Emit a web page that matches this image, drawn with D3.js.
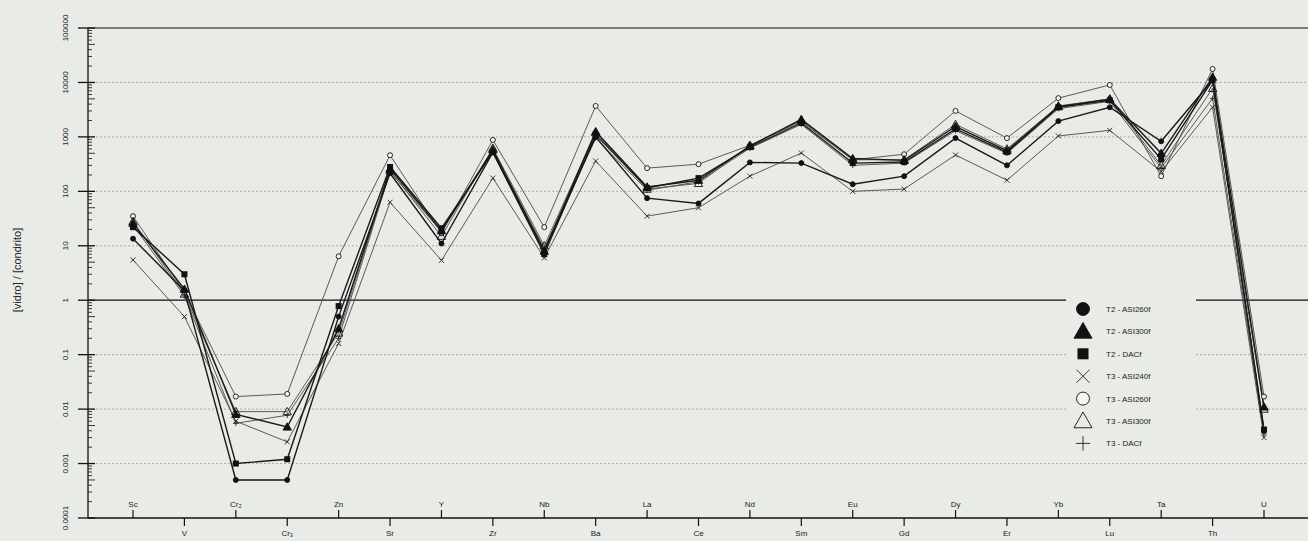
<!DOCTYPE html>
<html>
<head>
<meta charset="utf-8">
<script src="https://cdn.jsdelivr.net/npm/d3@7"></script>
<style>
html,body{margin:0;padding:0;background:#e8ebe6;}
svg{display:block;font-family:"Liberation Sans",Arial,sans-serif;}
</style>
</head>
<body>
<svg id="chart" width="1308" height="541"></svg>
<script>
const elements = ["Sc","V","Cr₂","Cr₃","Zn","Sr","Y","Zr","Nb","Ba","La","Ce","Nd","Sm","Eu","Gd","Dy","Er","Yb","Lu","Ta","Th","U"];

const t2_asi260f = [13.5,1.5,0.0005,0.0005,0.5,215,11,520,8,1000,75,60,340,330,135,190,950,300,1950,3500,830,11000,0.004];
const t2_asi300f = [26,1.6,0.008,0.0047,0.3,260,19,580,8,1250,120,160,680,2100,400,370,1550,560,3600,4900,500,12500,0.011];
const t2_dacf    = [22,3.0,0.001,0.0012,0.78,280,21,525,7,1100,115,175,650,1800,330,345,1400,525,3500,4700,390,11000,0.0042];
const t3_asi240f = [5.5,0.5,0.006,0.0025,0.16,63,5.4,175,6,360,35,50,190,505,100,110,465,160,1040,1320,230,3500,0.003];
const t3_asi260f = [35,1.4,0.017,0.019,6.4,460,17,880,22,3700,267,315,700,1900,380,480,3000,950,5150,9000,190,17700,0.017];
const t3_asi300f = [28,1.3,0.009,0.009,0.25,240,15,620,10,1200,110,140,700,2000,380,380,1700,600,3700,5000,300,7800,0.01];
const t3_dacf    = [24,1.2,0.0055,0.0077,0.2,230,18,560,9,950,105,150,620,1700,300,330,1300,500,3300,4500,270,5100,0.0035];

const seriesNames = ["T2 - ASI260f","T2 - ASI300f","T2 - DACf","T3 - ASI240f","T3 - ASI260f","T3 - ASI300f","T3 - DACf"];
const seriesValues = [t2_asi260f,t2_asi300f,t2_dacf,t3_asi240f,t3_asi260f,t3_asi300f,t3_dacf];
const seriesMarkers = ["circleF","triangleF","squareF","cross","circleO","triangleO","plus"];

const yTickValues = [1e-4,1e-3,1e-2,1e-1,1,10,100,1000,10000,100000];
const yTickLabels = ["0.0001","0.001","0.01","0.1","1","10","100","1000","10000","100000"];

const svg = d3.select("#chart");
const W = 1308, H = 541;
const axX = 88, plotTop = 28, plotBottom = 518;

const x = d3.scalePoint().domain(elements).range([133, 1264]);
const y = d3.scaleLog().domain([1e-4, 1e5]).range([plotBottom, plotTop]);

// gridlines
const g = svg.append("g");
yTickValues.forEach((v, i) => {
  if (v === 1e-4) return;
  const yy = y(v);
  if (v === 1 || v === 1e5) {
    g.append("line").attr("x1", axX).attr("x2", W).attr("y1", yy).attr("y2", yy)
      .attr("stroke", "#111").attr("stroke-width", 1.2);
  } else {
    g.append("line").attr("x1", axX).attr("x2", W).attr("y1", yy).attr("y2", yy)
      .attr("stroke", "#9a9c98").attr("stroke-width", 0.8).attr("stroke-dasharray", "2,2");
  }
});

// y axis
const yAxisG = svg.append("g").attr("transform", `translate(${axX},0)`);
yAxisG.append("line").attr("x1", 0).attr("x2", 0).attr("y1", plotTop).attr("y2", plotBottom)
  .attr("stroke", "#111").attr("stroke-width", 1.3);
const minor = [];
for (let e = -4; e < 5; e++) for (let m = 2; m <= 9; m++) minor.push({v: m * Math.pow(10, e), m: m});
yAxisG.selectAll(".minor").data(minor).enter().append("line")
  .attr("x1", 0).attr("x2", d => (d.m === 5 ? 7 : 4))
  .attr("y1", d => y(d.v)).attr("y2", d => y(d.v))
  .attr("stroke", "#222").attr("stroke-width", 0.9);
yAxisG.selectAll(".major").data(yTickValues).enter().append("line")
  .attr("x1", -10).attr("x2", 7)
  .attr("y1", d => y(d)).attr("y2", d => y(d))
  .attr("stroke", "#111").attr("stroke-width", 1.3);
yAxisG.selectAll(".ylab").data(yTickValues).enter().append("text")
  .attr("transform", d => `translate(-20,${y(d)}) rotate(-90)`)
  .attr("text-anchor", "middle")
  .attr("font-size", 8).attr("fill", "#222")
  .text((d, i) => yTickLabels[i]);

svg.append("text")
  .attr("transform", `translate(21,270) rotate(-90)`)
  .attr("text-anchor", "middle").attr("font-size", 11).attr("fill", "#222")
  .text("[vidro] / [condrito]");

// x axis
const xAxisG = svg.append("g");
xAxisG.append("line").attr("x1", axX).attr("x2", W).attr("y1", plotBottom).attr("y2", plotBottom)
  .attr("stroke", "#111").attr("stroke-width", 1.3);
elements.forEach((el, i) => {
  const xx = x(el);
  const up = i % 2 === 0;
  xAxisG.append("line").attr("x1", xx).attr("x2", xx)
    .attr("y1", plotBottom).attr("y2", up ? plotBottom - 8 : plotBottom + 8)
    .attr("stroke", "#111").attr("stroke-width", 1.2);
  xAxisG.append("text").attr("x", xx).attr("y", up ? plotBottom - 11 : plotBottom + 18)
    .attr("text-anchor", "middle").attr("font-size", 8).attr("fill", "#222")
    .text(el);
});

function drawMarker(sel, type, size) {
  const s = size;
  if (type === "circleF" || type === "circleO") {
    sel.append("circle").attr("r", s * 0.5)
      .attr("fill", type === "circleF" ? "#111" : "#f4f5f2")
      .attr("stroke", "#111").attr("stroke-width", 0.9);
  } else if (type === "squareF") {
    sel.append("rect").attr("x", -s * 0.5).attr("y", -s * 0.5).attr("width", s).attr("height", s)
      .attr("fill", "#111");
  } else if (type === "triangleF" || type === "triangleO") {
    const h = s;
    sel.append("path").attr("d", `M0,${-h * 0.6}L${s * 0.6},${h * 0.45}L${-s * 0.6},${h * 0.45}Z`)
      .attr("fill", type === "triangleF" ? "#111" : "none")
      .attr("stroke", "#111").attr("stroke-width", 0.9);
  } else if (type === "cross") {
    const r = s * 0.5;
    sel.append("path").attr("d", `M${-r},${-r}L${r},${r}M${-r},${r}L${r},${-r}`)
      .attr("stroke", "#222").attr("stroke-width", 0.9);
  } else if (type === "plus") {
    const r = s * 0.55;
    sel.append("path").attr("d", `M${-r},0L${r},0M0,${-r}L0,${r}`)
      .attr("stroke", "#222").attr("stroke-width", 0.9);
  }
}

const line = d3.line().x((d, i) => x(elements[i])).y(d => y(d));
const plotG = svg.append("g");
const order = [3, 4, 5, 6, 0, 1, 2];
order.forEach(si => {
  const isT2 = si < 3;
  plotG.append("path").datum(seriesValues[si]).attr("d", line)
    .attr("fill", "none")
    .attr("stroke", isT2 ? "#1a1a1a" : "#4a4a4a")
    .attr("stroke-width", isT2 ? 1.4 : 0.9);
});
order.forEach(si => {
  const mk = seriesMarkers[si];
  const sz = mk === "squareF" ? 6 : (mk.startsWith("triangle") ? 7 : 5);
  seriesValues[si].forEach((v, i) => {
    const m = plotG.append("g").attr("transform", `translate(${x(elements[i])},${y(v)})`);
    drawMarker(m, mk, sz);
  });
});

// legend
const lg = svg.append("g");
lg.append("rect").attr("x", 1066).attr("y", 292).attr("width", 130).attr("height", 166)
  .attr("fill", "#e8ebe6");
seriesNames.forEach((name, i) => {
  const yy = 309 + i * 22.4;
  const m = lg.append("g").attr("transform", `translate(1083,${yy})`);
  drawMarker(m, seriesMarkers[i], seriesMarkers[i] === "squareF" ? 11 : (seriesMarkers[i].startsWith("triangle") ? 15 : 13));
  lg.append("text").attr("x", 1106).attr("y", yy + 3).attr("font-size", 8).attr("fill", "#222")
    .text(name);
});
</script>
</body>
</html>
